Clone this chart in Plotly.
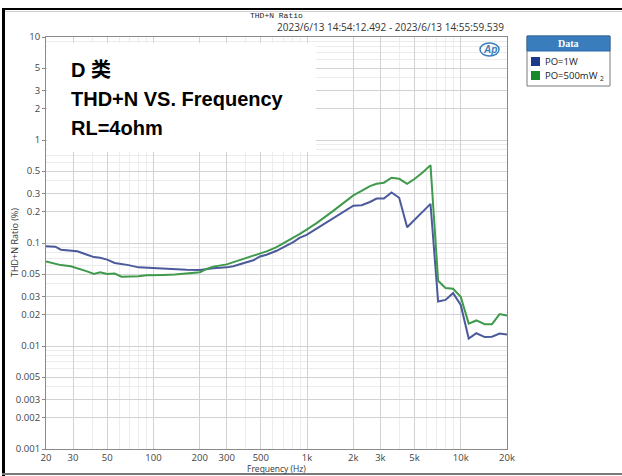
import plotly.graph_objects as go

# ---------------- data ----------------
freq_hz = [20, 23, 25, 29, 32, 37, 41, 45, 50, 56, 62, 69, 80, 90, 100, 116, 138, 164,
           201, 222, 245, 300, 331, 404, 447, 494, 545, 633, 736, 813, 892, 993, 1153,
           1480, 1900, 2000, 2263, 2565, 2834, 3162, 3545, 3975, 4480, 5026, 5697, 6357,
           7125, 7957, 8915, 10000, 11270, 12640, 14320, 15970, 17900, 20000]
po_1w = [0.093, 0.092, 0.086, 0.085, 0.083, 0.077, 0.073, 0.072, 0.069, 0.064, 0.063, 0.061,
         0.058, 0.0575, 0.057, 0.056, 0.055, 0.055, 0.0546, 0.056, 0.057, 0.058, 0.0595,
         0.065, 0.068, 0.074, 0.077, 0.084, 0.094, 0.102, 0.112, 0.120, 0.138, 0.173, 0.22,
         0.23, 0.233, 0.25, 0.27, 0.27, 0.31, 0.275, 0.142, 0.169, 0.20, 0.24, 0.027, 0.028,
         0.0326, 0.025, 0.0118, 0.0133, 0.0122, 0.0123, 0.0132, 0.0129]
po_500mw = [0.066, 0.0625, 0.061, 0.0595, 0.057, 0.053, 0.050, 0.052, 0.050, 0.0505, 0.047,
            0.047, 0.0475, 0.0485, 0.049, 0.049, 0.0495, 0.051, 0.052, 0.056, 0.059, 0.062,
            0.065, 0.072, 0.075, 0.079, 0.083, 0.091, 0.103, 0.111, 0.122, 0.135, 0.156,
            0.205, 0.275, 0.29, 0.32, 0.357, 0.376, 0.385, 0.43, 0.42, 0.376, 0.42, 0.49,
            0.57, 0.043, 0.0365, 0.036, 0.030, 0.0165, 0.0177, 0.0163, 0.0163, 0.0204, 0.0198]

series_names = ["PO=1W", "PO=500mW"]
x_tickvals = [20, 30, 50, 100, 200, 300, 500, 1000, 2000, 3000, 5000, 10000, 20000]
x_ticktext = ["20", "30", "50", "100", "200", "300", "500", "1k", "2k", "3k", "5k", "10k", "20k"]
x_minor = [40, 60, 70, 80, 90, 400, 600, 700, 800, 900, 4000, 6000, 7000, 8000, 9000]
y_tickvals = [10, 5, 3, 2, 1, 0.5, 0.3, 0.2, 0.1, 0.05, 0.03, 0.02, 0.01, 0.005, 0.003, 0.002, 0.001]
y_ticktext = ["10", "5", "3", "2", "1", "0.5", "0.3", "0.2", "0.1", "0.05", "0.03", "0.02",
              "0.01", "0.005", "0.003", "0.002", "0.001"]
y_minor = [m * d for d in (0.001, 0.01, 0.1, 1) for m in (4, 6, 7, 8, 9)]

# ---------------- layout helpers ----------------
W, H = 622, 476
L, R, T, B = 46, 507, 37, 449


def px(x):
    return (x - L) / (R - L)


def py(y):
    return (B - y) / (B - T)


line_blue = "#4a5a9c"
line_green = "#3f9a4c"
sw_blue = "#1d3a8a"
sw_green = "#168a2a"

fig = go.Figure()
fig.add_trace(go.Scatter(x=freq_hz, y=po_1w, mode="lines", name=series_names[0],
                         line=dict(color=line_blue, width=2)))
fig.add_trace(go.Scatter(x=freq_hz, y=po_500mw, mode="lines", name=series_names[1],
                         line=dict(color=line_green, width=2)))

tick_font = dict(family="Open Sans, sans-serif", size=9.5, color="#444")

fig.update_xaxes(type="log", range=[1.30103, 4.30103], tickmode="array",
                 tickvals=x_tickvals, ticktext=x_ticktext, tickfont=tick_font,
                 showgrid=True, gridcolor="#d2d2d2", gridwidth=1,
                 minor=dict(tickmode="array", tickvals=x_minor, showgrid=True,
                            gridcolor="#ececec", gridwidth=1),
                 showline=True, linecolor="#8a8a8a", linewidth=1, mirror=True,
                 ticks="", ticklabelstandoff=0, zeroline=False, automargin=False)
fig.update_yaxes(type="log", range=[-3, 1], tickmode="array",
                 tickvals=y_tickvals, ticktext=y_ticktext, tickfont=tick_font,
                 showgrid=True, gridcolor="#d2d2d2", gridwidth=1,
                 minor=dict(tickmode="array", tickvals=y_minor, showgrid=True,
                            gridcolor="#ececec", gridwidth=1),
                 showline=True, linecolor="#8a8a8a", linewidth=1, mirror=True,
                 ticks="outside", ticklen=3, tickcolor="#8a8a8a", zeroline=False,
                 automargin=False)

shapes = []
# white text box covering the grid
shapes.append(dict(type="rect", xref="paper", yref="paper", x0=px(47), x1=px(316),
                   y0=py(152), y1=py(43), fillcolor="white", line=dict(width=0), layer="above"))
# outer frame
shapes.append(dict(type="line", xref="paper", yref="paper", x0=px(3.5), x1=px(3.5),
                   y0=py(8), y1=py(476), line=dict(color="black", width=3)))
shapes.append(dict(type="line", xref="paper", yref="paper", x0=px(2), x1=px(622),
                   y0=py(9), y1=py(9), line=dict(color="black", width=2)))
shapes.append(dict(type="line", xref="paper", yref="paper", x0=px(5), x1=px(622),
                   y0=py(11.5), y1=py(11.5), line=dict(color="#cfcfcf", width=1)))
shapes.append(dict(type="line", xref="paper", yref="paper", x0=px(2), x1=px(622),
                   y0=py(474), y1=py(474), line=dict(color="#7a7a7a", width=2)))
# legend box
shapes.append(dict(type="rect", xref="paper", yref="paper", x0=px(527), x1=px(610),
                   y0=py(86), y1=py(36), fillcolor="white", line=dict(color="#7a7a7a", width=1)))
shapes.append(dict(type="rect", xref="paper", yref="paper", x0=px(527), x1=px(610),
                   y0=py(51), y1=py(36), fillcolor="#3a7dbd", line=dict(color="#2d6aa6", width=1)))
shapes.append(dict(type="rect", xref="paper", yref="paper", x0=px(531), x1=px(540),
                   y0=py(66), y1=py(57), fillcolor=sw_blue, line=dict(width=0)))
shapes.append(dict(type="rect", xref="paper", yref="paper", x0=px(531), x1=px(540),
                   y0=py(80), y1=py(71), fillcolor=sw_green, line=dict(width=0)))
# AP logo ring
shapes.append(dict(type="circle", xref="paper", yref="paper", x0=px(480), x1=px(499),
                   y0=py(56), y1=py(43), line=dict(color="#3a7dbd", width=1.5), layer="above"))

annotations = []
big = dict(family="Liberation Sans, Noto Sans CJK SC, sans-serif", size=20, color="black")
annotations.append(dict(xref="paper", yref="paper", x=px(69), y=py(70), xanchor="left",
                        yanchor="middle", text="<b>D 类</b>", showarrow=False, font=big))
annotations.append(dict(xref="paper", yref="paper", x=px(69), y=py(99), xanchor="left",
                        yanchor="middle", text="<b>THD+N VS. Frequency</b>", showarrow=False, font=big))
annotations.append(dict(xref="paper", yref="paper", x=px(69), y=py(128), xanchor="left",
                        yanchor="middle", text="<b>RL=4ohm</b>", showarrow=False, font=big))
annotations.append(dict(xref="paper", yref="paper", x=px(276), y=py(15), xanchor="center",
                        yanchor="middle", text="THD+N Ratio", showarrow=False,
                        font=dict(family="Liberation Mono, monospace", size=8, color="#222")))
annotations.append(dict(xref="paper", yref="paper", x=px(506), y=py(27), xanchor="right",
                        yanchor="middle", text="2023/6/13 14:54:12.492 - 2023/6/13 14:55:59.539",
                        showarrow=False,
                        font=dict(family="Open Sans, sans-serif", size=10, color="#333")))
annotations.append(dict(xref="paper", yref="paper", x=px(489.5), y=py(49.5), xanchor="center",
                        yanchor="middle", text="<b><i>Ap</i></b>", showarrow=False,
                        font=dict(family="Liberation Sans, sans-serif", size=10, color="#3a7dbd")))
annotations.append(dict(xref="paper", yref="paper", x=px(568.5), y=py(43.5), xanchor="center",
                        yanchor="middle", text="<b>Data</b>", showarrow=False,
                        font=dict(family="Liberation Serif, serif", size=10, color="white")))
annotations.append(dict(xref="paper", yref="paper", x=px(543), y=py(61.5), xanchor="left",
                        yanchor="middle", text=series_names[0], showarrow=False,
                        font=dict(family="Open Sans, sans-serif", size=9.5, color="#222")))
annotations.append(dict(xref="paper", yref="paper", x=px(543), y=py(75.5), xanchor="left",
                        yanchor="middle", text=series_names[1] + " <sub>2</sub>", showarrow=False,
                        font=dict(family="Open Sans, sans-serif", size=9.5, color="#222")))
# axis titles
annotations.append(dict(xref="paper", yref="paper", x=px(276), y=py(468.5), xanchor="center",
                        yanchor="middle", text="Frequency (Hz)", showarrow=False,
                        font=dict(family="Open Sans, sans-serif", size=8.5, color="#333")))
annotations.append(dict(xref="paper", yref="paper", x=px(14), y=py(243), xanchor="center",
                        yanchor="middle", text="THD+N Ratio (%)", showarrow=False, textangle=-90,
                        font=dict(family="Open Sans, sans-serif", size=9, color="#333")))

fig.update_layout(width=W, height=H, margin=dict(l=L, r=W - R, t=T, b=H - B),
                  paper_bgcolor="white", plot_bgcolor="white", showlegend=False,
                  shapes=shapes, annotations=annotations)

fig.write_html("out.html", config={"displayModeBar": False},
               post_script="document.body.style.margin='0';document.body.style.overflow='hidden';")
